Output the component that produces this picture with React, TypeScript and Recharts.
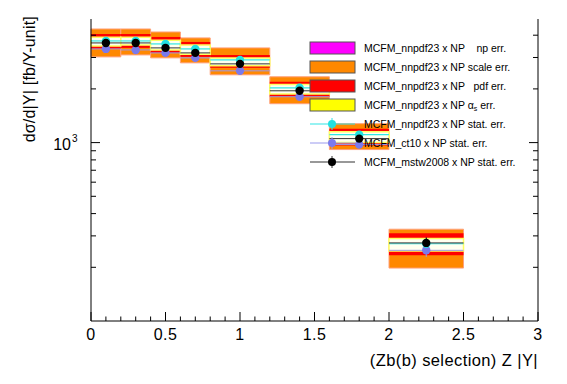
import React from "react";
import { ComposedChart, ErrorBar, Legend, ReferenceArea, Scatter, XAxis, YAxis } from "recharts";

// bins in |Y|
const binLo = [0, 0.2, 0.4, 0.6, 0.8, 1.2, 1.6, 2.0];
const binHi = [0.2, 0.4, 0.6, 0.8, 1.2, 1.6, 2.0, 2.5];

// central values [fb/Y-unit]
const nnpdf = [3714, 3714, 3574, 3351, 2909, 2029, 1108, 271];
const ct10 = [3351, 3307, 3183, 2985, 2525, 1807, 975, 249];
const mstw = [3620, 3620, 3395, 3183, 2763, 1952, 1053, 274];
const statErr = [20, 20, 20, 18, 15, 12, 10, 20];

// uncertainty bands on MCFM_nnpdf23 x NP
const scaleLo = [3023, 3101, 2985, 2799, 2399, 1652, 914, 198];
const scaleHi = [4334, 4334, 4170, 3861, 3395, 2338, 1277, 327];
const pdfLo = [3351, 3395, 3183, 3023, 2624, 1807, 962, 234];
const pdfHi = [4063, 4063, 3910, 3666, 3101, 2192, 1197, 310];
const asLo = [3480, 3520, 3300, 3130, 2700, 1870, 1000, 247];
const asHi = [3900, 3900, 3750, 3520, 2980, 2120, 1150, 290];

const xTicks = [0, 0.1, 0.2, 0.3, 0.4, 0.5, 0.6, 0.7, 0.8, 0.9, 1, 1.1, 1.2, 1.3, 1.4, 1.5, 1.6, 1.7, 1.8, 1.9, 2, 2.1, 2.2, 2.3, 2.4, 2.5, 2.6, 2.7, 2.8, 2.9, 3];
const xLabels = ["0", "0.5", "1", "1.5", "2", "2.5", "3"];
const yTicks = [200, 300, 400, 500, 600, 700, 800, 900, 1000, 2000, 3000, 4000];

const FONT = "'Liberation Sans', Arial, sans-serif";

const toPoints = (vals: number[]) =>
  vals.map((v, i) => ({
    x: (binLo[i] + binHi[i]) / 2,
    y: v,
    xe: (binHi[i] - binLo[i]) / 2,
    ye: statErr[i],
  }));

const isMajorX = (v: number) => Math.abs(v * 2 - Math.round(v * 2)) < 1e-6;
const xLabel = (v: number) => xLabels[Math.round(v * 2)];

const BottomTick = (p: any) => {
  const v = p.payload.value;
  const major = isMajorX(v);
  return (
    <g>
      <line x1={p.x} x2={p.x} y1={p.y} y2={p.y - (major ? 9 : 4.5)} stroke="#000" />
      {major ? (
        <text x={p.x} y={p.y + 19} textAnchor="middle" fontSize={16} letterSpacing={0.5} fontFamily={FONT} fill="#000">
          {xLabel(v)}
        </text>
      ) : null}
    </g>
  );
};

const TopTick = (p: any) => {
  const major = isMajorX(p.payload.value);
  return <line x1={p.x} x2={p.x} y1={p.y} y2={p.y + (major ? 9 : 4.5)} stroke="#000" />;
};

const LeftTick = (p: any) => {
  const v = p.payload.value;
  const major = v === 1000;
  return (
    <g>
      <line x1={p.x} x2={p.x + (major ? 9 : 5)} y1={p.y} y2={p.y} stroke="#000" />
      {major ? (
        <text fontFamily={FONT} fill="#000">
          <tspan x={p.x - 20} y={p.y + 7} textAnchor="end" fontSize={16}>10</tspan>
          <tspan x={p.x - 19} y={p.y - 1} fontSize={10}>3</tspan>
        </text>
      ) : null}
    </g>
  );
};

const RightTick = (p: any) => {
  const major = p.payload.value === 1000;
  return <line x1={p.x} x2={p.x - (major ? 9 : 5)} y1={p.y} y2={p.y} stroke="#000" />;
};

const legendBoxes = [
  { fill: "#ff00ff", text: "MCFM_nnpdf23 x NP    np err." },
  { fill: "#ff8800", text: "MCFM_nnpdf23 x NP scale err." },
  { fill: "#ff0000", text: "MCFM_nnpdf23 x NP   pdf err." },
  { fill: "#ffff00", text: "MCFM_nnpdf23 x NP " },
];
const legendMarkers = [
  { line: "#2fe6e6", dot: "#22e0e0", text: "MCFM_nnpdf23 x NP stat. err." },
  { line: "#9999ee", dot: "#7a7aec", text: "MCFM_ct10 x NP stat. err." },
  { line: "#333333", dot: "#000000", text: "MCFM_mstw2008 x NP stat. err." },
];

const LegendBox = () => (
  <svg width={260} height={140} style={{ overflow: "visible" }}>
    <g fontFamily={FONT} fontSize={10.5} fill="#000">
      {legendBoxes.map((e, i) => (
        <g key={e.fill}>
          <rect x={10} y={6 + 19 * i} width={45} height={12} fill={e.fill} stroke="#555" strokeWidth={1} />
          <text x={64} y={16 + 19 * i} style={{ whiteSpace: "pre" }}>
            {e.text}
            {i === 3 ? (
              <>
                <tspan>α</tspan>
                <tspan dy={2} fontSize={7}>s</tspan>
                <tspan dy={-2}> err.</tspan>
              </>
            ) : null}
          </text>
        </g>
      ))}
      {legendMarkers.map((e, j) => {
        const cy = 88 + 19 * j;
        return (
          <g key={e.text}>
            <line x1={10} x2={55} y1={cy} y2={cy} stroke={e.line} strokeWidth={1.2} />
            <line x1={32} x2={32} y1={cy - 6} y2={cy + 6} stroke={e.line} strokeWidth={1} />
            <circle cx={32} cy={cy} r={4} fill={e.dot} />
            <text x={64} y={cy + 4}>{e.text}</text>
          </g>
        );
      })}
    </g>
  </svg>
);

const dot = (color: string) => (p: any) => <circle cx={p.cx} cy={p.cy} r={4.2} fill={color} />;

export default function App() {
  return (
    <div style={{ position: "absolute", left: 0, top: 0, width: 567, height: 384, background: "#fff" }}>
      <ComposedChart width={567} height={384} margin={{ top: 19, right: 0, bottom: 0, left: 0 }} style={{ fontFamily: FONT }}>
        <XAxis
          dataKey="x"
          type="number"
          domain={[0, 3]}
          allowDataOverflow
          ticks={xTicks}
          interval={0}
          tick={BottomTick}
          tickSize={0}
          tickMargin={0}
          tickLine={false}
          axisLine={{ stroke: "#000" }}
          height={63}
          label={{
            content: () => (
              <text x={538} y={366} textAnchor="end" fontSize={16.5} letterSpacing={0.4} fontFamily={FONT} fill="#000">
                (Zb(b) selection) Z |Y|
              </text>
            ),
          }}
        />
        <XAxis
          xAxisId="top"
          orientation="top"
          type="number"
          domain={[0, 3]}
          allowDataOverflow
          ticks={xTicks}
          interval={0}
          tick={TopTick}
          tickSize={0}
          tickMargin={0}
          tickLine={false}
          axisLine={{ stroke: "#000" }}
          height={0}
        />
        <YAxis
          type="number"
          scale="log"
          domain={[100, 4930]}
          allowDataOverflow
          ticks={yTicks}
          interval={0}
          tick={LeftTick}
          tickSize={0}
          tickMargin={0}
          tickLine={false}
          axisLine={{ stroke: "#000" }}
          width={91}
          label={{
            content: () => (
              <text
                x={35}
                y={16}
                textAnchor="end"
                transform="rotate(-90, 35, 16)"
                fontSize={16}
                letterSpacing={0.2}
                fontFamily={FONT}
                fill="#000"
              >
                dσ/d|Y| [fb/Y-unit]
              </text>
            ),
          }}
        />
        <YAxis
          yAxisId="right"
          orientation="right"
          type="number"
          scale="log"
          domain={[100, 4930]}
          allowDataOverflow
          ticks={yTicks}
          interval={0}
          tick={RightTick}
          tickSize={0}
          tickMargin={0}
          tickLine={false}
          axisLine={{ stroke: "#000" }}
          width={29}
        />

        {binLo.map((lo, i) => (
          <ReferenceArea
            key={`s${i}`}
            x1={lo}
            x2={binHi[i]}
            y1={scaleLo[i]}
            y2={scaleHi[i]}
            fill="#ff8800"
            fillOpacity={1}
            stroke="#ffa07a"
            strokeWidth={1}
          />
        ))}
        {binLo.map((lo, i) => (
          <ReferenceArea key={`p${i}`} x1={lo} x2={binHi[i]} y1={pdfLo[i]} y2={pdfHi[i]} fill="#ff0000" fillOpacity={1} />
        ))}
        {binLo.map((lo, i) => (
          <ReferenceArea
            key={`a${i}`}
            x1={lo}
            x2={binHi[i]}
            y1={asLo[i]}
            y2={asHi[i]}
            fill="#fffff0"
            fillOpacity={1}
            stroke="#ffff60"
            strokeWidth={1.5}
          />
        ))}

        <Scatter data={toPoints(ct10)} dataKey="y" shape={dot("#7a7aec")} isAnimationActive={false}>
          <ErrorBar dataKey="xe" direction="x" width={0} stroke="#9999ee" strokeWidth={1} isAnimationActive={false} />
          <ErrorBar dataKey="ye" direction="y" width={0} stroke="#9999ee" strokeWidth={1} isAnimationActive={false} />
        </Scatter>
        <Scatter data={toPoints(nnpdf)} dataKey="y" shape={dot("#22e0e0")} isAnimationActive={false}>
          <ErrorBar dataKey="xe" direction="x" width={0} stroke="#2fe6e6" strokeWidth={1.2} isAnimationActive={false} />
          <ErrorBar dataKey="ye" direction="y" width={0} stroke="#2fe6e6" strokeWidth={1} isAnimationActive={false} />
        </Scatter>
        <Scatter data={toPoints(mstw)} dataKey="y" shape={dot("#000000")} isAnimationActive={false}>
          <ErrorBar dataKey="xe" direction="x" width={0} stroke="#333333" strokeWidth={1} isAnimationActive={false} />
          <ErrorBar dataKey="ye" direction="y" width={0} stroke="#000000" strokeWidth={1} isAnimationActive={false} />
        </Scatter>

        <Legend
          layout="vertical"
          align="center"
          verticalAlign="middle"
          content={LegendBox}
          wrapperStyle={{ left: 300, top: 36, width: 260, height: 140 }}
        />
      </ComposedChart>
    </div>
  );
}
